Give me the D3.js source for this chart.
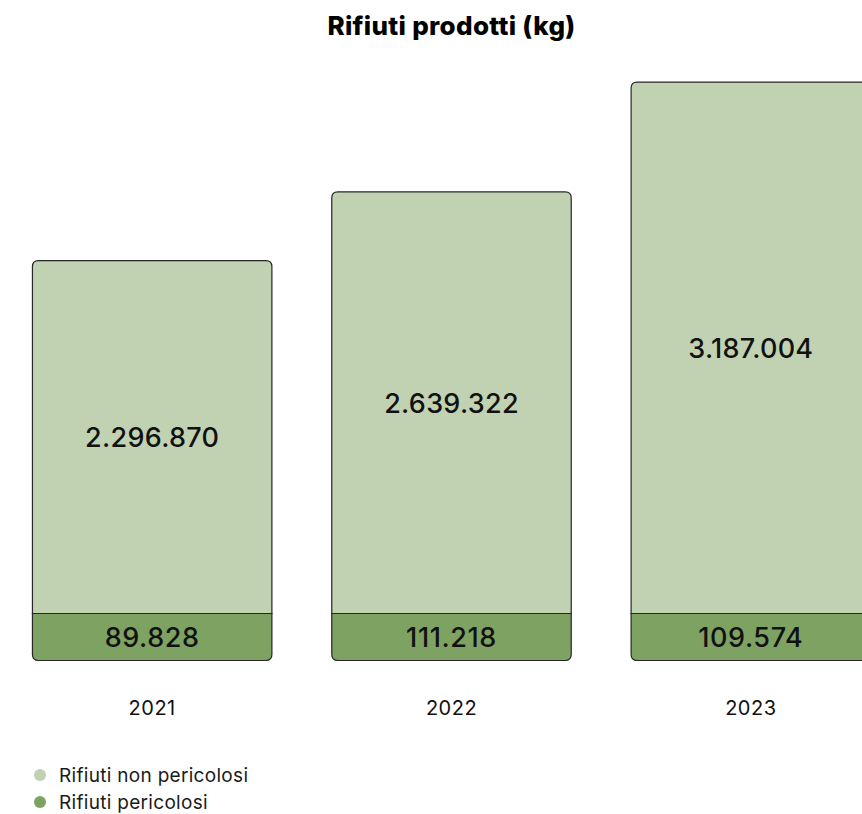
<!DOCTYPE html>
<html>
<head>
<meta charset="utf-8">
<script src="https://d3js.org/d3.v7.min.js"></script>
<title>Rifiuti prodotti (kg)</title>
<style>
  html, body { margin: 0; padding: 0; background: #fff; overflow: hidden; }
  svg { display: block; font-family: Inter, "Noto Sans", sans-serif; }
</style>
</head>
<body>
<svg id="chart"></svg>
<script>
// data
var years = ['2021', '2022', '2023'];
var nonPericolosi = [2296870, 2639322, 3187004];
var pericolosi = [89828, 111218, 109574];
var seriesNames = ['Rifiuti non pericolosi', 'Rifiuti pericolosi'];

var vWidth = 862, vHeight = 814;
var colLight = '#c1d2b2', colDark = '#7ea262', colStroke = '#262626';

var svg = d3.select('#chart').attr('width', vWidth).attr('height', vHeight);

var fmt = function (v) { return d3.format(',')(v).replace(/,/g, '.'); };

// x: bands wider than the window, the last bar runs off the right edge
var x = d3.scaleBand().domain(years).range([2.5, 900.5])
    .paddingInner(0.2).paddingOuter(0.1);

var baseY = 660.5;      // bottom of the bars
var hazH = 47;          // hazardous band keeps a fixed height
var splitY = baseY - hazH;

// non-hazardous part, scale does not start at zero
var y = d3.scaleLinear().domain([536200, 3200000]).range([splitY, splitY - 534]);

var r = 6;
function topRounded(x0, y0, w, y1) {
  return 'M' + x0 + ',' + y1 + 'V' + (y0 + r) + 'Q' + x0 + ',' + y0 + ' ' + (x0 + r) + ',' + y0 +
    'H' + (x0 + w - r) + 'Q' + (x0 + w) + ',' + y0 + ' ' + (x0 + w) + ',' + (y0 + r) + 'V' + y1;
}
function bottomRounded(x0, y0, w, y1) {
  return 'M' + x0 + ',' + y0 + 'V' + (y1 - r) + 'Q' + x0 + ',' + y1 + ' ' + (x0 + r) + ',' + y1 +
    'H' + (x0 + w - r) + 'Q' + (x0 + w) + ',' + y1 + ' ' + (x0 + w) + ',' + (y1 - r) + 'V' + y0 + 'Z';
}

// title
svg.append('text')
    .attr('x', (x.range()[0] + x.range()[1]) / 2)
    .attr('y', 35)
    .attr('text-anchor', 'middle')
    .style('font-size', '26px')
    .style('font-weight', 800)
    .style('letter-spacing', '0.3px')
    .style('fill', '#000')
    .text('Rifiuti prodotti (kg)');

var bars = svg.selectAll('g.bar').data(years).enter().append('g').attr('class', 'bar');

bars.append('path')
    .attr('d', function (d, i) { return topRounded(x(d), y(nonPericolosi[i]), x.bandwidth(), splitY) + 'Z'; })
    .style('fill', colLight)
    .style('stroke', colStroke)
    .style('stroke-width', 1.2);

bars.append('path')
    .attr('d', function (d) { return bottomRounded(x(d), splitY, x.bandwidth(), baseY); })
    .style('fill', colDark)
    .style('stroke', colStroke)
    .style('stroke-width', 1.2);

bars.append('text')
    .attr('x', function (d) { return x(d) + x.bandwidth() / 2; })
    .attr('y', function (d, i) { return (y(nonPericolosi[i]) + splitY) / 2 + 10; })
    .attr('text-anchor', 'middle')
    .style('font-size', '27px')
    .style('font-weight', 500)
    .style('letter-spacing', '0.3px')
    .style('fill', '#111')
    .text(function (d, i) { return fmt(nonPericolosi[i]); });

bars.append('text')
    .attr('x', function (d) { return x(d) + x.bandwidth() / 2; })
    .attr('y', (splitY + baseY) / 2 + 10)
    .attr('text-anchor', 'middle')
    .style('font-size', '27px')
    .style('font-weight', 500)
    .style('letter-spacing', '0.6px')
    .style('fill', '#111')
    .text(function (d, i) { return fmt(pericolosi[i]); });

bars.append('text')
    .attr('x', function (d) { return x(d) + x.bandwidth() / 2; })
    .attr('y', 715)
    .attr('text-anchor', 'middle')
    .style('font-size', '20px')
    .style('letter-spacing', '0.5px')
    .style('fill', '#111')
    .text(function (d) { return d; });

// legend
var legend = svg.selectAll('g.leg').data(seriesNames).enter().append('g')
    .attr('class', 'leg')
    .attr('transform', function (d, i) { return 'translate(40,' + (775 + i * 27) + ')'; });

legend.append('circle')
    .attr('r', 6)
    .style('fill', function (d, i) { return i === 0 ? colLight : colDark; });

legend.append('text')
    .attr('x', 19)
    .attr('y', 6.5)
    .style('font-size', '19px')
    .style('letter-spacing', '0.3px')
    .style('fill', '#1a1a1a')
    .text(function (d) { return d; });
</script>
</body>
</html>
